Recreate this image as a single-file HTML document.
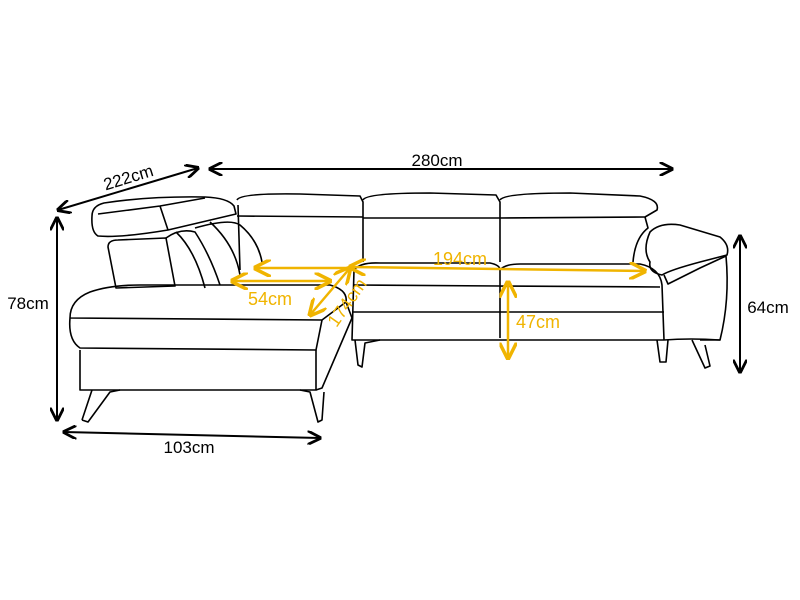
<!DOCTYPE html>
<html><head><style>body{margin:0;background:#fff}svg{display:block}text{font-family:"Liberation Sans",sans-serif}</style></head><body>
<svg width="800" height="600" viewBox="0 0 800 600" xmlns="http://www.w3.org/2000/svg">
<defs>
<marker id="a" viewBox="0 0 10 10" refX="9" refY="5" markerWidth="7" markerHeight="7" orient="auto-start-reverse"><path d="M0,0 L10,5 L0,10" fill="none" stroke="#000" stroke-width="2"/></marker>
<marker id="y" viewBox="0 0 10 10" refX="9" refY="5" markerWidth="7" markerHeight="7" orient="auto-start-reverse"><path d="M0,0 L10,5 L0,10" fill="none" stroke="#f0b400" stroke-width="2"/></marker>
</defs>
<g fill="none" stroke="#000" stroke-width="1.6" stroke-linejoin="round">
<path d="M92,216 Q92,206 104,203 Q150,196 205,197 Q228,198 234,206 L236,214 L168,230 Q120,238 98,236 Q91,232 92,216Z"/>
<path d="M160,206 L205,198 M160,206 L168,230 M160,206 L98,214"/>
<path d="M108,247 Q108,240 118,240 L166,238 L175,286 L116,288 Z"/>
<path d="M166,238 Q180,228 195,232 Q210,255 220,285"/>
<path d="M176,232 Q195,250 205,288"/>
<path d="M195,228 Q230,218 240,225 Q258,240 262,262"/>
<path d="M210,222 Q235,245 240,275"/>
<path d="M238,205 L240,270"/>
<path d="M70,318 Q70,300 90,292 Q110,285 140,285 L330,285 Q348,290 346,302 L322,320 L70,318"/>
<path d="M70,318 Q68,340 80,348 L316,350 L322,320"/>
<path d="M80,350 L80,390 L316,390 L316,350"/>
<path d="M346,302 L352,318 L322,388 L316,390"/>
<path d="M82,420 L92,390 M82,420 L88,422 L110,392 L120,390"/>
<path d="M300,390 L310,392 L318,422 L322,420 L324,392"/>
<path d="M237,200 Q240,193 300,194 L360,196 L363,202 L363,262"/>
<path d="M237,216 L363,217"/>
<path d="M363,200 Q366,193 430,193 L496,195 L500,202 L500,262"/>
<path d="M363,218 L500,218"/>
<path d="M500,200 Q504,193 570,193 L640,196 Q660,200 657,210 L645,217 L500,218"/>
<path d="M645,217 L648,228 Q635,238 633,262"/>
<path d="M354,270 Q360,262 380,263 L490,263 Q500,265 500,270 Q505,264 520,264 L640,264 Q660,268 662,285 L664,340"/>
<path d="M354,285 L500,286 L660,287 M500,270 L500,338"/>
<path d="M352,312 L664,312"/>
<path d="M354,270 L352,340 L664,340"/>
<path d="M650,232 Q660,222 680,225 L720,237 Q730,245 727,255 L700,262 Q670,270 662,275 Q648,272 650,262 Q642,250 650,232Z"/>
<path d="M664,275 L668,284 L700,268 L726,256 Q730,300 720,340 L700,340"/>
<path d="M664,340 Q690,338 720,340"/>
<path d="M355,340 L358,365 L362,367 L365,343 L380,340"/>
<path d="M657,340 L660,362 L666,362 L668,340"/>
<path d="M692,340 L705,368 L710,366 L705,345"/>
</g>
<g stroke="#000" stroke-width="2" fill="none">
<line x1="210" y1="169" x2="672" y2="169" marker-start="url(#a)" marker-end="url(#a)"/>
<line x1="58" y1="210" x2="198" y2="168" marker-start="url(#a)" marker-end="url(#a)"/>
<line x1="57" y1="218" x2="57" y2="420" marker-start="url(#a)" marker-end="url(#a)"/>
<line x1="64" y1="432" x2="320" y2="438" marker-start="url(#a)" marker-end="url(#a)"/>
<line x1="740" y1="236" x2="740" y2="372" marker-start="url(#a)" marker-end="url(#a)"/>
</g>
<g font-size="17" fill="#000">
<text x="437" y="166" text-anchor="middle">280cm</text>
<text x="130" y="183" text-anchor="middle" transform="rotate(-17 130 183)">222cm</text>
<text x="28" y="309" text-anchor="middle">78cm</text>
<text x="189" y="453" text-anchor="middle">103cm</text>
<text x="768" y="313" text-anchor="middle">64cm</text>
</g>
<g stroke="#f0b400" stroke-width="2.5" fill="none">
<line x1="350" y1="267" x2="645" y2="271" marker-start="url(#y)" marker-end="url(#y)"/>
<line x1="255" y1="268" x2="350" y2="268" marker-start="url(#y)"/>
<line x1="232" y1="281" x2="330" y2="281" marker-start="url(#y)" marker-end="url(#y)"/>
<line x1="350" y1="268" x2="310" y2="315" marker-start="url(#y)" marker-end="url(#y)"/>
<line x1="508" y1="282" x2="508" y2="358" marker-start="url(#y)" marker-end="url(#y)"/>
</g>
<g font-size="18" fill="#f0b400">
<text x="460" y="265" text-anchor="middle">194cm</text>
<text x="270" y="305" text-anchor="middle">54cm</text>
<text x="352" y="306" text-anchor="middle" transform="rotate(-55 352 306)">174cm</text>
<text x="538" y="328" text-anchor="middle">47cm</text>
</g>
</svg>
</body></html>
